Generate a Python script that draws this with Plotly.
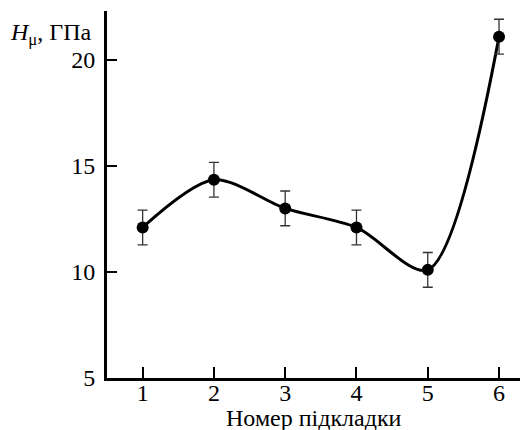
import plotly.graph_objects as go

substrate = [1, 2, 3, 4, 5, 6]
hardness = [12.1, 14.35, 13.0, 12.1, 10.1, 21.1]
hardness_err = [0.82, 0.82, 0.82, 0.82, 0.82, 0.82]
x_ticks = [1, 2, 3, 4, 5, 6]
y_ticks = [5, 10, 15, 20]

FONT = "Liberation Serif"
FS = 24

fig = go.Figure()
fig.add_trace(go.Scatter(
    x=substrate, y=hardness, mode="lines",
    line=dict(color="black", width=3, shape="spline", smoothing=0.85),
    hoverinfo="skip", showlegend=False,
))
fig.add_trace(go.Scatter(
    x=substrate, y=hardness, mode="markers",
    marker=dict(color="black", size=12),
    error_y=dict(type="data", array=hardness_err, visible=True,
                 color="#333333", thickness=1.3, width=5),
    showlegend=False,
))

fig.update_layout(
    width=520, height=430,
    margin=dict(l=107, r=0, t=11, b=52),
    paper_bgcolor="white", plot_bgcolor="white",
    font=dict(family=FONT, size=FS, color="black"),
    xaxis=dict(
        range=[0.5, 6.294], tickvals=x_ticks, ticks="inside", ticklen=11,
        tickwidth=2, tickcolor="black", showline=True, linewidth=3,
        linecolor="black", showgrid=False, zeroline=False, automargin=False,
        tickfont=dict(family=FONT, size=FS), ticklabelstandoff=-9,
    ),
    yaxis=dict(
        range=[5, 22.31], tickvals=y_ticks, ticks="inside", ticklen=10,
        tickwidth=2, tickcolor="black", showline=True, linewidth=3,
        linecolor="black", showgrid=False, zeroline=False, automargin=False,
        tickfont=dict(family=FONT, size=FS), ticklabelstandoff=4,
    ),
    annotations=[
        dict(
            text="<i>H</i><sub>μ</sub>, ГПа", xref="paper", yref="paper",
            x=-0.032, y=0.937, xanchor="right", yanchor="middle",
            showarrow=False, font=dict(family=FONT, size=FS, color="black"),
        ),
        dict(
            text="Номер підкладки", xref="paper", yref="paper",
            x=0.5, y=-0.11, xanchor="center", yanchor="middle",
            showarrow=False, font=dict(family=FONT, size=FS, color="black"),
        ),
    ],
)

fig.write_html("out.html", config={"displayModeBar": False},
               post_script="document.body.style.margin='0px';")
